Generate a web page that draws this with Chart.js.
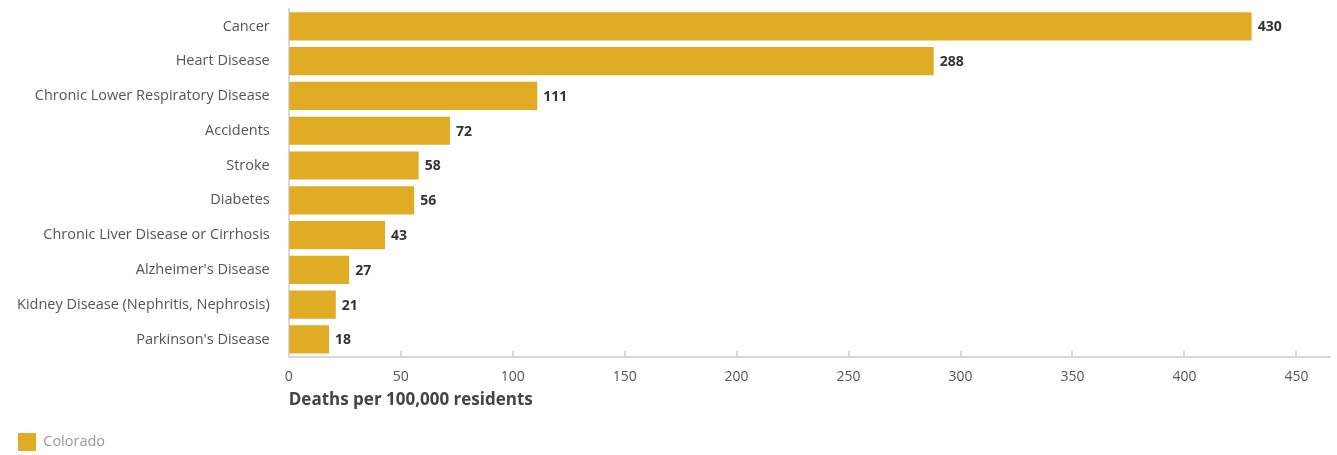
<!DOCTYPE html>
<html>
<head>
<meta charset="utf-8">
<script src="https://cdn.jsdelivr.net/npm/chart.js@4/dist/chart.umd.min.js"></script>
<style>
  html, body { margin: 0; padding: 0; background: #fff; }
  #wrap { width: 1337px; height: 455px; position: relative; }
</style>
</head>
<body>
<div id="wrap"><canvas id="chart"></canvas></div>
<script>
// causes of death, Colorado
const causes = [
  'Cancer',
  'Heart Disease',
  'Chronic Lower Respiratory Disease',
  'Accidents',
  'Stroke',
  'Diabetes',
  'Chronic Liver Disease or Cirrhosis',
  "Alzheimer's Disease",
  'Kidney Disease (Nephritis, Nephrosis)',
  "Parkinson's Disease"
];
const coloradoRates = [430, 288, 111, 72, 58, 56, 43, 27, 21, 18];
const xTicks = [0, 50, 100, 150, 200, 250, 300, 350, 400, 450];

const FONT = "'Open Sans', sans-serif";
const GOLD = '#E0AB25';

// value label next to each bar
const barValues = {
  id: 'barValues',
  afterDatasetsDraw(chart) {
    const ctx = chart.ctx;
    const meta = chart.getDatasetMeta(0);
    ctx.save();
    ctx.font = "bold 14px " + FONT;
    ctx.fillStyle = '#333';
    ctx.textAlign = 'left';
    ctx.textBaseline = 'middle';
    meta.data.forEach((bar, i) => {
      ctx.fillText(String(coloradoRates[i]), bar.x + 6, bar.y + 1);
    });
    ctx.restore();
  }
};

// short tick marks rising from the x axis line
const innerTicks = {
  id: 'innerTicks',
  afterDraw(chart) {
    const ctx = chart.ctx;
    const x = chart.scales.x;
    const bottom = chart.chartArea.bottom;
    ctx.save();
    ctx.strokeStyle = '#d9d9d9';
    ctx.lineWidth = 2;
    xTicks.forEach(v => {
      if (v === 0) return;
      const px = Math.round(x.getPixelForValue(v));
      ctx.beginPath();
      ctx.moveTo(px, bottom - 6);
      ctx.lineTo(px, bottom);
      ctx.stroke();
    });
    ctx.restore();
  }
};

new Chart(document.getElementById('chart'), {
  type: 'bar',
  data: {
    labels: causes,
    datasets: [{
      label: 'Colorado',
      data: coloradoRates,
      backgroundColor: GOLD,
      borderWidth: 0,
      barPercentage: 0.81,
      categoryPercentage: 1
    }]
  },
  options: {
    indexAxis: 'y',
    responsive: true,
    maintainAspectRatio: false,
    animation: false,
    layout: { autoPadding: false, padding: { top: 9, right: 7, bottom: -6, left: 17 } },
    scales: {
      x: {
        min: 0,
        max: 465,
        afterBuildTicks(scale) {
          scale.ticks = xTicks.map(v => ({ value: v }));
        },
        grid: { drawOnChartArea: false, drawTicks: false },
        border: { color: '#d9d9d9', width: 2 },
        ticks: {
          padding: 12,
          color: '#555',
          font: { family: FONT, size: 14 }
        },
        title: {
          display: true,
          text: 'Deaths per 100,000 residents',
          align: 'start',
          color: '#444',
          padding: { top: -8, bottom: 22 },
          font: { family: FONT, size: 17, weight: 'bold' }
        }
      },
      y: {
        // invisible tick marks give the gap between labels and axis
        grid: { drawOnChartArea: false, drawTicks: true, tickLength: 19, tickColor: 'rgba(0,0,0,0)' },
        border: { color: '#d9d9d9', width: 2 },
        ticks: {
          padding: 0,
          color: '#555',
          font: { family: FONT, size: 14.5 }
        }
      }
    },
    plugins: {
      legend: {
        position: 'bottom',
        align: 'start',
        labels: {
          boxWidth: 18,
          boxHeight: 18,
          padding: 1,
          color: '#999',
          font: { family: FONT, size: 14.5 }
        }
      },
      tooltip: { enabled: false }
    }
  },
  plugins: [barValues, innerTicks]
});
</script>
</body>
</html>
